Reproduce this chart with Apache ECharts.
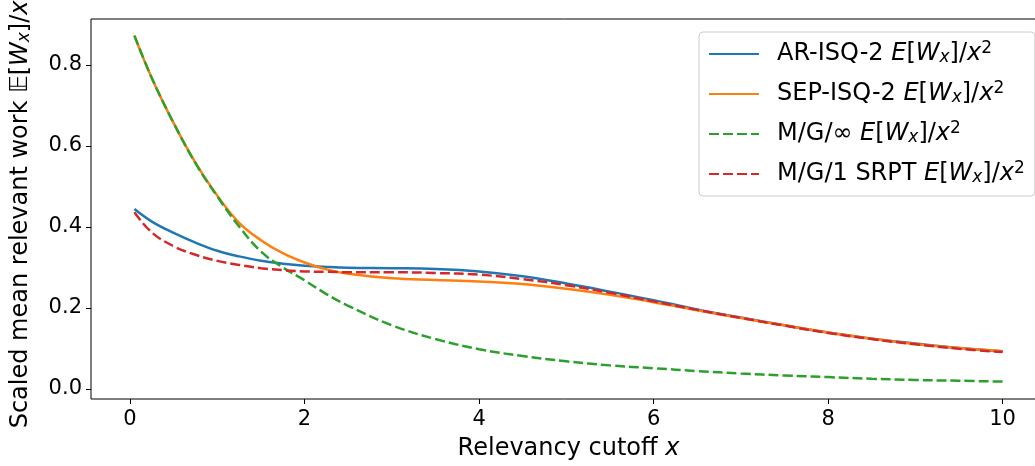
<!DOCTYPE html>
<html>
<head>
<meta charset="utf-8">
<script src="https://cdn.jsdelivr.net/npm/echarts@6/dist/echarts.min.js"></script>
<style>
  html, body { margin: 0; padding: 0; background: #fff; }
  #chart { width: 1035px; height: 466px; }
</style>
</head>
<body>
<div id="chart"></div>
<script>
// relevancy cutoff x
const xs = [0.05, 0.25, 0.5, 0.75, 1.0, 1.25, 1.5, 1.75, 2.0, 2.25, 2.5, 3.0, 3.5, 4.0, 4.5, 5.0, 5.5, 6.0, 6.5, 7.0, 7.5, 8.0, 8.5, 9.0, 9.5, 10.0]

// scaled mean relevant work E[W_x]/x^2
const arIsq  = [0.444, 0.413, 0.385, 0.361, 0.341, 0.327, 0.316, 0.309, 0.304, 0.301, 0.299, 0.298, 0.296, 0.290, 0.278, 0.260, 0.240, 0.219, 0.196, 0.176, 0.157, 0.139, 0.124, 0.112, 0.101, 0.093]
const sepIsq = [0.872, 0.767, 0.656, 0.558, 0.477, 0.410, 0.367, 0.335, 0.312, 0.295, 0.284, 0.273, 0.269, 0.265, 0.259, 0.247, 0.232, 0.214, 0.194, 0.175, 0.157, 0.139, 0.124, 0.111, 0.101, 0.093]
const mgInf  = [0.872, 0.767, 0.656, 0.557, 0.475, 0.401, 0.339, 0.300, 0.268, 0.234, 0.205, 0.157, 0.123, 0.098, 0.081, 0.068, 0.058, 0.051, 0.044, 0.038, 0.033, 0.029, 0.025, 0.022, 0.020, 0.018]
const srpt   = [0.436, 0.386, 0.352, 0.331, 0.316, 0.306, 0.298, 0.293, 0.290, 0.289, 0.288, 0.288, 0.286, 0.282, 0.271, 0.256, 0.237, 0.216, 0.195, 0.175, 0.156, 0.138, 0.123, 0.110, 0.099, 0.091]

const xTicks = [0, 2, 4, 6, 8, 10]
const yTicks = [0, 0.2, 0.4, 0.6, 0.8]

const seriesNames = ['AR-ISQ-2', 'SEP-ISQ-2', 'M/G/∞', 'M/G/1 SRPT']
const seriesData = [arIsq, sepIsq, mgInf, srpt]
const colors = ['#1f77b4', '#ff7f0e', '#2ca02c', '#d62728']
const dashed = [false, false, true, true]

const FONT = 'DejaVu Sans'
const NAME_SIZE = 24
const TICK_SIZE = 21

const mathRich = (size, lh) => ({
  i: { fontFamily: FONT, fontStyle: 'italic', fontSize: size, color: '#000', lineHeight: lh },
  n: { fontFamily: FONT, fontSize: size, color: '#000', lineHeight: lh },
  sub: { fontFamily: FONT, fontStyle: 'italic', fontSize: Math.round(size * 0.7), color: '#000', lineHeight: lh, padding: [Math.round(size * 0.35), 0, 0, 0] },
  sup: { fontFamily: FONT, fontSize: Math.round(size * 0.7), color: '#000', lineHeight: lh, padding: [0, 0, Math.round(size * 0.45), 0] },
})

const chart = echarts.init(document.getElementById('chart'), null, { renderer: 'canvas' })

const option = {
  backgroundColor: '#fff',
  animation: false,
  textStyle: { fontFamily: FONT },
  grid: {
    left: 91, top: 19, width: 955, height: 380,
    outerBoundsMode: 'none',
    show: true, borderColor: '#000', borderWidth: 1, backgroundColor: 'transparent',
  },
  legend: {
    orient: 'vertical',
    left: 699, top: 32,
    padding: [8, 10, 8, 9],
    itemWidth: 50, itemHeight: 14, itemGap: 12,
    itemStyle: { opacity: 0 },
    backgroundColor: 'rgba(255,255,255,0.8)',
    borderColor: '#cccccc', borderWidth: 1, borderRadius: 4,
    data: seriesNames,
    textStyle: {
      fontFamily: FONT, fontSize: NAME_SIZE, color: '#000', lineHeight: 28,
      padding: [0, 0, 0, 13],
      rich: mathRich(NAME_SIZE, 28),
    },
    formatter: name => `{n|${name} }{i|E}{n|[}{i|W}{sub|x}{n|]/}{i|x}{sup|2}`,
  },
  xAxis: {
    type: 'value',
    min: -0.4475, max: 10.4975,
    name: 'Relevancy cutoff {i|x}',
    nameLocation: 'middle', nameGap: 38,
    nameTextStyle: {
      fontFamily: FONT, fontSize: NAME_SIZE, color: '#000',
      rich: { i: { fontFamily: FONT, fontSize: NAME_SIZE, fontStyle: 'italic', color: '#000' } },
    },
    axisLine: { show: false, onZero: false },
    splitLine: { show: false },
    axisTick: { show: true, length: 5, lineStyle: { color: '#000', width: 1 }, customValues: xTicks },
    axisLabel: { fontFamily: FONT, fontSize: TICK_SIZE, color: '#000', margin: 10, customValues: xTicks },
  },
  yAxis: {
    type: 'value',
    min: -0.025, max: 0.913,
    name: 'Scaled mean relevant work {n|𝔼[}{i|W}{sub|x}{n|]/}{i|x}{sup|2}',
    nameLocation: 'middle', nameRotate: 90, nameGap: 56,
    nameTextStyle: {
      fontFamily: FONT, fontSize: NAME_SIZE, color: '#000',
      rich: mathRich(NAME_SIZE, 28),
    },
    axisLine: { show: false, onZero: false },
    splitLine: { show: false },
    axisTick: { show: true, length: 5, lineStyle: { color: '#000', width: 1 }, customValues: yTicks },
    axisLabel: {
      fontFamily: FONT, fontSize: TICK_SIZE, color: '#000', margin: 9, customValues: yTicks,
      formatter: v => v.toFixed(1),
    },
  },
  series: seriesNames.map((name, i) => ({
    name,
    type: 'line',
    smooth: 0.4,
    symbol: 'none',
    showSymbol: false,
    color: colors[i],
    lineStyle: {
      color: colors[i],
      width: 2.5,
      type: dashed[i] ? [10, 4] : 'solid',
    },
    data: xs.map((x, k) => [x, seriesData[i][k]]),
    z: 2 + i,
  })),
}

chart.setOption(option)
</script>
</body>
</html>
